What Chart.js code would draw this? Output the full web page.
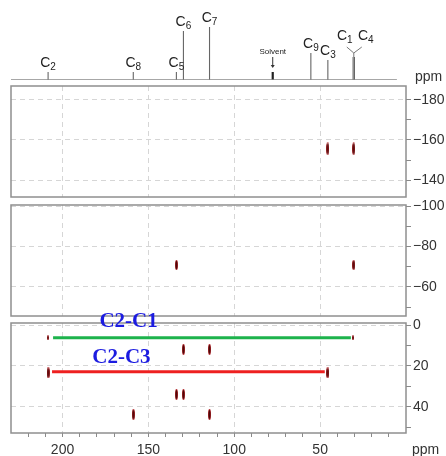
<!DOCTYPE html>
<html>
<head>
<meta charset="utf-8">
<script src="https://cdn.jsdelivr.net/npm/chart.js@4.4.1/dist/chart.umd.min.js"></script>
<style>
  body { margin: 0; background: #fff; }
  #wrap { position: relative; width: 446px; height: 456px; overflow: hidden; }
  #wrap canvas { position: absolute; left: 0; }
</style>
</head>
<body>
<div id="wrap">
  <canvas id="spectrum" width="446" height="92" style="top:0"></canvas>
  <canvas id="upper" width="446" height="125" style="top:80px"></canvas>
  <canvas id="middle" width="446" height="129" style="top:195px"></canvas>
  <canvas id="lower" width="446" height="156" style="top:300px"></canvas>
</div>
<script>
// ppm axis (13C, F2)
const ppmTicks = [200, 150, 100, 50];

// 1D 13C spectrum on top
const carbons = ['2', '8', '5', '6', '7', '9', '3', '1', '4'];
const carbonShift = [208.4, 158.8, 133.7, 129.6, 114.4, 55.4, 45.5, 30.8, 30.0];
const carbonHeight = [8, 8, 8, 49, 53, 27, 20, 23, 23];
const solventShift = 77.6;
const solventHeight = 8;

// INADEQUATE cross peaks, one set per panel (F1 values)
const upperPeaksX = [45.5, 30.4];
const upperPeaksY = [-155.6, -155.6];
const middlePeaksX = [133.7, 30.4];
const middlePeaksY = [-70.8, -70.8];
const lowerWeakX = [208.4, 30.8];
const lowerWeakY = [6.2, 6.2];
const lowerPeaksX = [129.6, 114.4, 208.4, 45.5, 133.7, 129.6, 158.8, 114.4];
const lowerPeaksY = [11.9, 11.9, 23.4, 23.4, 34.0, 34.0, 43.8, 43.8];

// connectivity links drawn in the lower panel
const linkLabels = ['C2-C1', 'C2-C3'];
const linkFrom = [205.5, 206.1];
const linkTo = [32.1, 47.3];
const linkLevel = [6.2, 22.9];

Chart.defaults.font.family = '"Liberation Sans", Arial, sans-serif';
Chart.defaults.color = '#333';

const gridColor = '#d6d6d6';
const tickColor = '#8a8a8a';

function toPoints(xs, ys) {
  return xs.map((x, i) => ({ x: x, y: ys[i] }));
}

function peakImage(w, h) {
  const c = document.createElement('canvas');
  c.width = w;
  c.height = h;
  const g = c.getContext('2d');
  g.fillStyle = '#b3262b';
  g.beginPath();
  g.ellipse(w / 2, h / 2, w / 2, h / 2, 0, 0, Math.PI * 2);
  g.fill();
  g.fillStyle = '#4a0606';
  g.beginPath();
  g.ellipse(w / 2, h / 2, w * 0.3, h * 0.42, 0, 0, Math.PI * 2);
  g.fill();
  return c;
}

function peakSet(xs, ys, img) {
  return {
    data: toPoints(xs, ys),
    pointStyle: img,
    pointRadius: 3,
    showLine: false
  };
}

const frame = {
  id: 'frame',
  afterDraw(chart) {
    const { ctx, chartArea: a } = chart;
    ctx.save();
    ctx.strokeStyle = '#8f8f8f';
    ctx.lineWidth = 1.5;
    ctx.strokeRect(a.left, a.top, a.right - a.left, a.bottom - a.top);
    ctx.restore();
  }
};

function drawCarbon(ctx, n, cx, base) {
  ctx.font = '14px "Liberation Sans"';
  const wC = ctx.measureText('C').width;
  ctx.font = '10px "Liberation Sans"';
  const wN = ctx.measureText(n).width;
  const left = cx - (wC + wN) / 2;
  ctx.font = '14px "Liberation Sans"';
  ctx.fillText('C', left, base);
  ctx.font = '10px "Liberation Sans"';
  ctx.fillText(n, left + wC, base + 3);
}

const spectrumLabels = {
  id: 'spectrumLabels',
  afterDatasetsDraw(chart) {
    const { ctx, scales: { x, y } } = chart;
    ctx.save();
    ctx.fillStyle = '#222';
    ctx.textAlign = 'left';
    ctx.textBaseline = 'alphabetic';
    carbons.forEach((c, i) => {
      if (c === '1' || c === '4') return;
      drawCarbon(ctx, c, x.getPixelForValue(carbonShift[i]), y.getPixelForValue(carbonHeight[i]) - 5);
    });

    // C1 / C4 fork
    const i1 = carbons.indexOf('1');
    const fx = (x.getPixelForValue(carbonShift[i1]) + x.getPixelForValue(carbonShift[i1 + 1])) / 2;
    const fy = y.getPixelForValue(carbonHeight[i1]);
    ctx.strokeStyle = '#777';
    ctx.lineWidth = 1;
    ctx.beginPath();
    ctx.moveTo(fx, fy);
    ctx.lineTo(fx, fy - 4);
    ctx.lineTo(fx - 7, fy - 10);
    ctx.moveTo(fx, fy - 4);
    ctx.lineTo(fx + 8, fy - 10);
    ctx.stroke();
    drawCarbon(ctx, '1', fx - 9, fy - 17);
    drawCarbon(ctx, '4', fx + 12, fy - 17);

    // solvent marker
    const sx = x.getPixelForValue(solventShift);
    const sy = y.getPixelForValue(solventHeight);
    ctx.font = '8px "Liberation Sans"';
    ctx.textAlign = 'center';
    ctx.fillText('Solvent', sx, sy - 18);
    ctx.strokeStyle = '#333';
    ctx.beginPath();
    ctx.moveTo(sx, sy - 15);
    ctx.lineTo(sx, sy - 5);
    ctx.stroke();
    ctx.beginPath();
    ctx.moveTo(sx - 2, sy - 7);
    ctx.lineTo(sx, sy - 4);
    ctx.lineTo(sx + 2, sy - 7);
    ctx.closePath();
    ctx.fillStyle = '#333';
    ctx.fill();

    ctx.fillStyle = '#333';
    ctx.font = '14px "Liberation Sans"';
    ctx.textAlign = 'left';
    ctx.fillText('ppm', x.right + 9, y.bottom + 1);
    ctx.restore();
  }
};

function buildSpectrum() {
  const stems = [];
  carbonShift.forEach((s, i) => {
    stems.push({ x: s, y: 0 }, { x: s, y: carbonHeight[i] }, { x: s, y: null });
  });
  new Chart(document.getElementById('spectrum'), {
    type: 'scatter',
    data: {
      datasets: [
        { data: [{ x: 230, y: 0 }, { x: 5.3, y: 0 }], showLine: true, borderColor: '#8a8a8a', borderWidth: 1.5, pointRadius: 0 },
        { data: stems, showLine: true, borderColor: '#666', borderWidth: 1.1, pointRadius: 0, spanGaps: false },
        { data: [{ x: solventShift, y: 0 }, { x: solventShift, y: solventHeight }], showLine: true, borderColor: '#222', borderWidth: 2.2, pointRadius: 0 }
      ]
    },
    options: {
      responsive: false,
      animation: false,
      layout: { padding: { left: 11, right: 40, top: 0, bottom: 12 } },
      plugins: { legend: { display: false }, tooltip: { enabled: false } },
      scales: {
        x: { display: false, type: 'linear', min: 0, max: 230, reverse: true },
        y: { display: false, min: 0, max: 80 }
      }
    },
    plugins: [spectrumLabels]
  });
}

function panelChart(id, yMin, yMax, padTop, axisHeight, showPpm, datasets, extra) {
  return new Chart(document.getElementById(id), {
    type: 'scatter',
    data: { datasets: datasets },
    options: {
      responsive: false,
      animation: false,
      layout: { padding: { left: 11, top: padTop, right: 0, bottom: 0 } },
      plugins: { legend: { display: false }, tooltip: { enabled: false } },
      scales: {
        x: {
          type: 'linear',
          min: 0,
          max: 230,
          reverse: true,
          ticks: {
            display: showPpm,
            stepSize: 10,
            autoSkip: false,
            maxRotation: 0,
            padding: 5,
            font: { size: 14 },
            color: '#333',
            callback: v => (ppmTicks.includes(v) ? v : '')
          },
          grid: {
            drawTicks: showPpm,
            tickLength: 4,
            color: c => (c.tick && ppmTicks.includes(c.tick.value) ? gridColor : 'transparent'),
            tickColor: c => (c.tick && c.tick.value > 0 && c.tick.value < 230 ? tickColor : 'transparent')
          },
          border: { display: false, dash: [5, 4] },
          afterFit: s => {
            s.height = axisHeight;
            s.paddingLeft = 0;
            s.paddingRight = 0;
          }
        },
        y: {
          position: 'right',
          min: yMin,
          max: yMax,
          reverse: true,
          ticks: {
            stepSize: 10,
            includeBounds: false,
            autoSkip: false,
            padding: 2,
            font: { size: 14 },
            color: '#333',
            callback: v => (v % 20 === 0 ? (v < 0 ? '\u2212' + Math.abs(v) : String(v)) : '')
          },
          grid: {
            tickLength: 5,
            color: c => (c.tick && c.tick.value % 20 === 0 ? gridColor : 'transparent'),
            tickColor: tickColor
          },
          border: { display: false, dash: [5, 4] },
          afterFit: s => {
            s.width = 40;
            s.paddingTop = 0;
            s.paddingBottom = 0;
          }
        }
      }
    },
    plugins: [frame].concat(extra || [])
  });
}

const lowerText = {
  id: 'lowerText',
  afterDraw(chart) {
    const { ctx, scales: { x, y } } = chart;
    ctx.save();
    ctx.fillStyle = '#1c1ce0';
    ctx.font = 'bold 21px "Liberation Serif", "Times New Roman", serif';
    ctx.textAlign = 'left';
    ctx.textBaseline = 'alphabetic';
    const offsets = [11, 9];
    const starts = [178.5, 182.7];
    linkLabels.forEach((t, i) => {
      ctx.fillText(t, x.getPixelForValue(starts[i]), y.getPixelForValue(linkLevel[i]) - offsets[i]);
    });
    ctx.fillStyle = '#333';
    ctx.font = '14px "Liberation Sans"';
    ctx.textBaseline = 'top';
    ctx.fillText('ppm', x.right + 6, y.bottom + 10);
    ctx.restore();
  }
};

buildSpectrum();

panelChart('upper', -186.8, -131.7, 6, 8, false, [
  peakSet(upperPeaksX, upperPeaksY, peakImage(3, 13))
]);

panelChart('middle', -100.5, -45.6, 10, 8, false, [
  peakSet(middlePeaksX, middlePeaksY, peakImage(3, 10))
]);

const linkColors = ['#1db34c', '#ee2020'];
panelChart('lower', -1, 52.9, 23, 23, true, linkLabels.map((t, i) => ({
  data: [{ x: linkFrom[i], y: linkLevel[i] }, { x: linkTo[i], y: linkLevel[i] }],
  showLine: true,
  borderColor: linkColors[i],
  borderWidth: 3,
  pointRadius: 0
})).concat([
  peakSet(lowerWeakX, lowerWeakY, peakImage(2, 5)),
  peakSet(lowerPeaksX, lowerPeaksY, peakImage(3, 11))
]), [lowerText]);
</script>
</body>
</html>
